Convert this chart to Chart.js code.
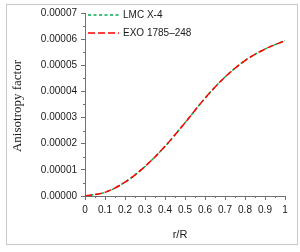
<!DOCTYPE html>
<html>
<head>
<meta charset="utf-8">
<script src="https://cdn.jsdelivr.net/npm/chart.js@4"></script>
<style>
  html, body { margin: 0; padding: 0; background: #fff; }
  #wrap { position: relative; width: 300px; height: 252px; }
</style>
</head>
<body>
<div id="wrap"><canvas id="myChart" width="300" height="252"></canvas></div>
<script>
const radius = [0, 0.1, 0.2, 0.3, 0.4, 0.5, 0.6, 0.7, 0.8, 0.9, 1.0]
const lmcValues = [0, 0.0000014, 0.0000053, 0.0000113, 0.0000190, 0.0000280, 0.0000374, 0.0000455, 0.0000518, 0.0000562, 0.0000594]
const exoValues = [0, 0.0000014, 0.0000053, 0.0000113, 0.0000190, 0.0000280, 0.0000374, 0.0000455, 0.0000518, 0.0000562, 0.0000594]
const seriesNames = ['LMC X-4', 'EXO 1785\u2013248']
const xTitle = 'r/R'
const yTitle = 'Anisotropy factor'

const greenColor = '#00b050'
const redColor = '#ff0000'
const axisColor = '#707070'
const textColor = '#1a1a1a'

const toPoints = values => values.map((v, i) => ({ x: radius[i], y: v }))

// legend, titles, minor ticks and the outer frame
const extras = {
    id: 'extras',
    afterDraw(chart) {
        const ctx = chart.ctx
        const xs = chart.scales.x
        const ys = chart.scales.y
        ctx.save()

        // frame
        ctx.strokeStyle = '#c8c8c8'
        ctx.lineWidth = 1
        ctx.strokeRect(6.5, 4.5, 291, 240)

        // minor ticks
        ctx.strokeStyle = axisColor
        ctx.lineWidth = 1
        ctx.beginPath()
        for (let i = 0; i < 10; i++) {
            const px = Math.round(xs.getPixelForValue(i * 0.1 + 0.05)) + 0.5
            ctx.moveTo(px, xs.top)
            ctx.lineTo(px, xs.top + 2)
        }
        for (let i = 0; i < 7; i++) {
            const py = Math.round(ys.getPixelForValue(i * 0.00001 + 0.000005)) + 0.5
            ctx.moveTo(ys.right, py)
            ctx.lineTo(ys.right - 2, py)
        }
        ctx.stroke()

        // titles
        ctx.fillStyle = textColor
        ctx.textAlign = 'center'
        ctx.textBaseline = 'middle'
        ctx.font = '11px "Liberation Sans", Arial, sans-serif'
        ctx.fillText(xTitle, 180, 235)
        ctx.save()
        ctx.translate(18, 106)
        ctx.rotate(-Math.PI / 2)
        ctx.font = '13px "Liberation Serif", "Times New Roman", serif'
        ctx.fillText(yTitle, 0, 0)
        ctx.restore()

        // legend
        const rows = [
            { y: 15, color: greenColor, dash: [3, 2.5] },
            { y: 33, color: redColor, dash: [7, 3] }
        ]
        ctx.font = '10px "Liberation Sans", Arial, sans-serif'
        ctx.textAlign = 'left'
        rows.forEach((row, i) => {
            ctx.strokeStyle = row.color
            ctx.lineWidth = 1.5
            ctx.setLineDash(row.dash)
            ctx.beginPath()
            ctx.moveTo(88, row.y)
            ctx.lineTo(119, row.y)
            ctx.stroke()
            ctx.setLineDash([])
            ctx.fillStyle = textColor
            ctx.fillText(seriesNames[i], 123, row.y)
        })
        ctx.restore()
    }
}

const ctx = document.getElementById('myChart')

new Chart(ctx, {
    type: 'line',
    data: {
        datasets: [{
            label: seriesNames[0],
            data: toPoints(lmcValues),
            borderColor: greenColor,
            borderWidth: 1.5,
            borderDash: [3, 2.5],
            pointRadius: 0,
            cubicInterpolationMode: 'monotone',
            order: 1
        }, {
            label: seriesNames[1],
            data: toPoints(exoValues),
            borderColor: redColor,
            borderWidth: 1.5,
            borderDash: [7, 3],
            pointRadius: 0,
            cubicInterpolationMode: 'monotone',
            order: 0
        }]
    },
    options: {
        responsive: false,
        animation: false,
        devicePixelRatio: 1,
        layout: { padding: { left: 0, right: 15, top: 13, bottom: 0 } },
        plugins: { legend: { display: false }, tooltip: { enabled: false } },
        scales: {
            x: {
                type: 'linear',
                min: 0,
                max: 1,
                afterFit: scale => { scale.height = 56 },
                border: { color: axisColor, width: 1 },
                grid: { drawOnChartArea: false, tickLength: 4, color: axisColor },
                ticks: {
                    stepSize: 0.1,
                    padding: 4,
                    maxRotation: 0,
                    autoSkip: false,
                    color: textColor,
                    font: { family: '"Liberation Sans", Arial, sans-serif', size: 10 },
                    callback: v => String(Number(v.toFixed(1)))
                }
            },
            y: {
                min: 0,
                max: 0.00007,
                afterFit: scale => { scale.width = 85 },
                border: { color: axisColor, width: 1 },
                grid: { drawOnChartArea: false, tickLength: 4, color: axisColor },
                ticks: {
                    stepSize: 0.00001,
                    padding: 4,
                    autoSkip: false,
                    color: textColor,
                    font: { family: '"Liberation Sans", Arial, sans-serif', size: 10 },
                    callback: v => v.toFixed(5)
                }
            }
        }
    },
    plugins: [extras]
});
</script>
</body>
</html>
